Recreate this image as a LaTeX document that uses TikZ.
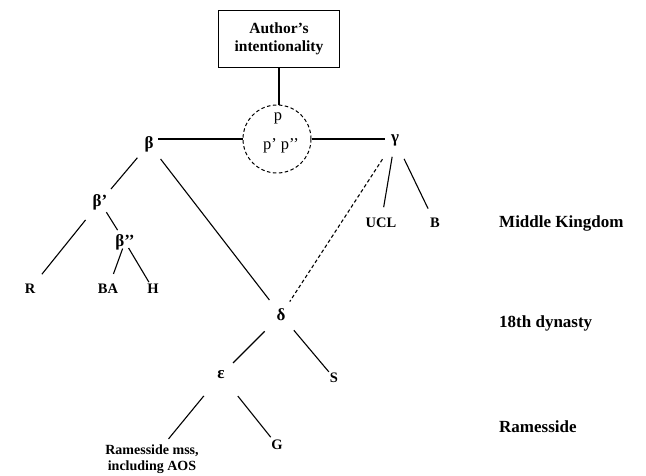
\documentclass[tikz,border=0pt]{standalone}
\usepackage{fontspec}
\setmainfont{Liberation Serif}
\begin{document}
\begin{tikzpicture}[x=1pt,y=-1pt,
  every node/.style={font=\bfseries\fontsize{14.5}{16}\selectfont, inner sep=2pt},
  greek/.style={font=\bfseries\fontsize{17}{18}\selectfont},
  period/.style={font=\bfseries\fontsize{17}{19}\selectfont, anchor=west},
  plabel/.style={font=\fontsize{16.5}{18}\selectfont},
  link/.style 2 args={line width=1.1pt, shorten <=#1pt, shorten >=#2pt},
  dlink/.style 2 args={link={#1}{#2}, dash pattern=on 3.5pt off 2.5pt}
]
\fill[white] (0,0) rectangle (646,475);
\useasboundingbox (0,0) rectangle (646,475);

% origin of the text
\node[draw, line width=1pt, minimum width=121pt, minimum height=57pt, align=center,
      font=\bfseries\fontsize{15.5}{18}\selectfont] (box) at (279,39) {Author’s\\intentionality};
\node[draw, circle, dash pattern=on 3.5pt off 2.5pt, line width=1pt, minimum size=68pt, inner sep=0pt] (circ) at (277,139) {};
\node[plabel] (p1) at (278,118) {p};
\node[plabel] (p2) at (281,146) {p’ p’’};

% hyparchetypes and witnesses
\node[greek] (b)  at (149,144) {β};
\node[greek] (g)  at (395,140) {γ};
\node[greek] (b1) at (100,202) {β’};
\node[greek] (b2) at (125,242) {β’’};
\node (R)   at (30,289)  {R};
\node (BA)  at (108,289) {BA};
\node (H)   at (153,289) {H};
\node (UCL) at (381,223) {UCL};
\node (B)   at (435,223) {B};
\node[greek] (d) at (281,315) {δ};
\node[greek] (e) at (221,375) {ε};
\node (S)   at (334,378) {S};
\node (G)   at (277,445) {G};
\node[align=center, font=\bfseries\fontsize{14}{16}\selectfont] (Rm) at (152,459) {Ramesside mss,\\including AOS};

% periods
\node[period] (mk)  at (497,223) {Middle Kingdom};
\node[period] (dyn) at (497,323) {18th dynasty};
\node[period] (ram) at (497,427) {Ramesside};

% connectors
\draw[line width=1.1pt] (box.south) -- (box.south |- circ.north);
\draw[line width=1.1pt] (circ.west) -- ([xshift=2pt]circ.west -| b.east);
\draw[line width=1.1pt] (circ.east) -- ([xshift=-4pt]circ.east -| g.west);
\draw[link={18}{17}] (b.center) -- (b1.center);
\draw[link={23}{19}] (b1.center) -- (R.center);
\draw[link={12}{14}] (b1.center) -- (b2.center);
\draw[link={7}{16}] (b2.center) -- (BA.center);
\draw[link={7}{8}] (b2.center) -- (H.center);
\draw[link={19}{19}] (b.center) -- (d.center);
\draw[dlink={23}{16}] (g.center) -- (d.center);
\draw[link={17}{16}] (g.center) -- (UCL.center);
\draw[link={21}{16}] (g.center) -- (B.center);
\draw[link={23}{17}] (d.center) -- (e.center);
\draw[link={20}{8}] (d.center) -- (S.center);
\draw[link={27}{26}] (e.center) -- (Rm.center);
\draw[link={27}{10}] (e.center) -- (G.center);
\end{tikzpicture}
\end{document}
